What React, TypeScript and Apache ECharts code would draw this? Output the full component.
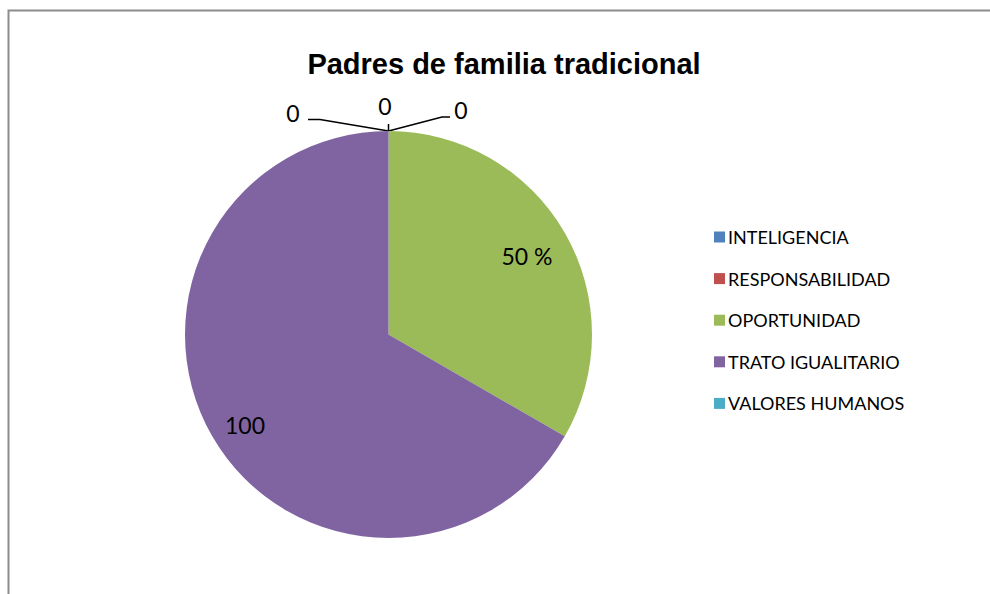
import React, { useEffect, useRef } from "react";
import * as echarts from "echarts";

const categories = ["INTELIGENCIA", "RESPONSABILIDAD", "OPORTUNIDAD", "TRATO IGUALITARIO", "VALORES HUMANOS"];
const values = [0, 0, 50, 100, 0];
const labelTexts = ["0", "0", "50 %", "100", "0"];
const colors = ["#4F81BD", "#C0504D", "#9BBB59", "#8064A2", "#4BACC6"];

const CX = 388.5;
const CY = 334.5;
const R = 203.5;

// label placements for each slice
const labelSpots: Record<number, { x: number; y: number; line?: number[][] }> = {
  0: { x: 293, y: 113, line: [[CX, CY - R], [320, 119.5], [308, 119.5]] },
  1: { x: 385, y: 106, line: [[CX, CY - R], [CX, CY - R - 4], [CX, 124]] },
  2: { x: 527, y: 256 },
  3: { x: 245, y: 425 },
  4: { x: 461, y: 110, line: [[CX, CY - R], [442, 117], [450, 117]] },
};

export default function App() {
  const ref = useRef<HTMLDivElement>(null);
  useEffect(() => {
    const chart = echarts.init(ref.current!, null, { renderer: "svg" });
    chart.setOption({
      animation: false,
      backgroundColor: "#ffffff",
      title: {
        text: "Padres de familia tradicional",
        left: 499,
        top: 44,
        textAlign: "center",
        textStyle: { fontFamily: "Liberation Sans", fontWeight: "bold", fontSize: 29, color: "#000" },
      },
      legend: {
        orient: "vertical",
        left: 709,
        top: 222,
        itemWidth: 11,
        itemHeight: 11,
        itemGap: 21.6,
        icon: "rect",
        data: categories,
        textStyle: { fontFamily: "Lato", fontSize: 18, color: "#000", lineHeight: 20, padding: [0, 0, 0, -2] },
      },
      graphic: [
        {
          type: "rect",
          shape: { x: 8.5, y: 10.5, width: 1100, height: 1000 },
          style: { fill: "none", stroke: "#8c8c8c", lineWidth: 2 },
          silent: true,
        },
      ],
      series: [
        {
          type: "pie",
          center: [CX, CY],
          radius: R,
          startAngle: 90,
          clockwise: true,
          avoidLabelOverlap: false,
          color: colors,
          label: {
            show: true,
            position: "outside",
            fontFamily: "Lato",
            fontSize: 23,
            color: "#000",
          },
          labelLine: { show: true, lineStyle: { color: "#000", width: 1.5 }, length: 10, length2: 10 },
          labelLayout: (params: any) => {
            const s = labelSpots[params.dataIndex];
            if (!s) return {};
            const out: any = { x: s.x, y: s.y, align: "center", verticalAlign: "middle" };
            if (s.line) out.labelLinePoints = s.line;
            return out;
          },
          data: categories.map((name, i) => ({
            name,
            value: values[i],
            label: { formatter: labelTexts[i] },
            labelLine: { show: values[i] === 0 },
          })),
        },
      ],
    });
    return () => chart.dispose();
  }, []);
  return <div ref={ref} style={{ position: "absolute", left: 0, top: 0, width: 990, height: 594 }} />;
}
